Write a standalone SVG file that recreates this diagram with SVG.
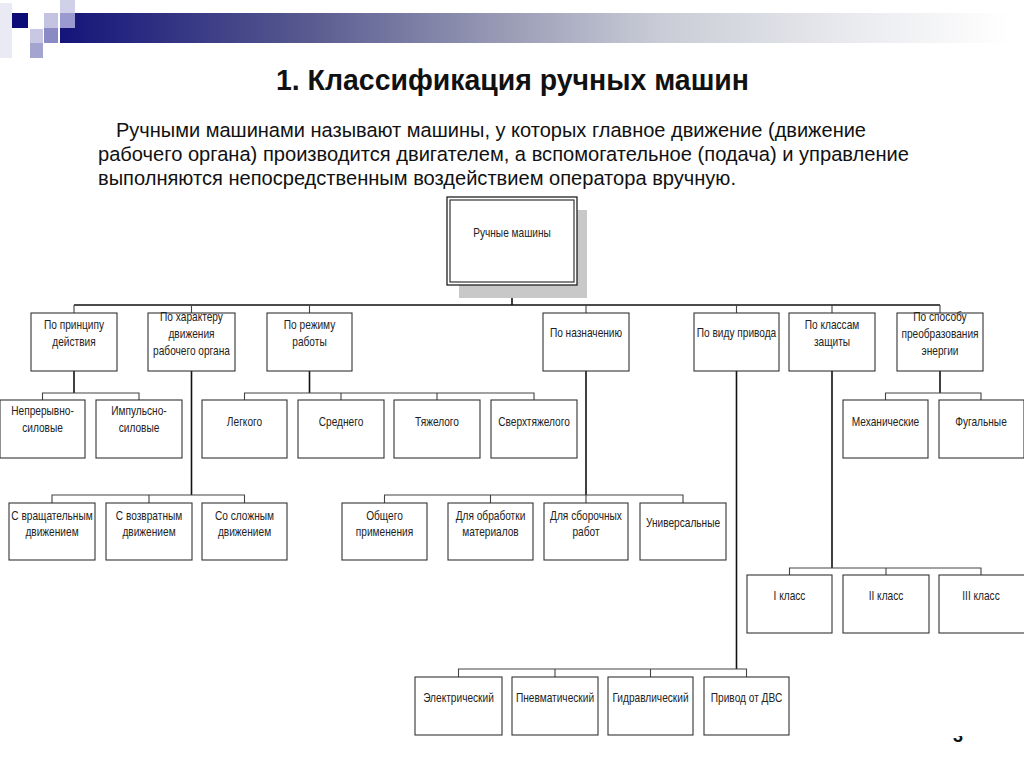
<svg xmlns="http://www.w3.org/2000/svg" width="1024" height="767" viewBox="0 0 1024 767">
<defs>
<linearGradient id="bar" gradientUnits="userSpaceOnUse" x1="60" y1="0" x2="1010" y2="0">
<stop offset="0" stop-color="#14147a"/>
<stop offset="0.25" stop-color="#55578e"/>
<stop offset="0.47" stop-color="#9a9cb6"/>
<stop offset="0.63" stop-color="#c9ccd6"/>
<stop offset="0.83" stop-color="#e9eaee"/>
<stop offset="1" stop-color="#ffffff"/>
</linearGradient>
<clipPath id="pg"><rect x="900" y="736" width="124" height="31"/></clipPath>
<style>
.box{fill:#fff;stroke:#333;stroke-width:1.1}
.t{font-family:"Liberation Sans",Arial,sans-serif;font-size:13px;fill:#222;text-anchor:middle}
.main{stroke:#111;stroke-width:1.6;fill:none}
.sub{stroke:#444;stroke-width:1.1;fill:none}
.title{font-family:"Liberation Sans",Arial,sans-serif;font-weight:bold;font-size:29px;fill:#111}
.para{font-family:"Liberation Sans",Arial,sans-serif;font-size:20.5px;fill:#111}
</style>
</defs>
<rect width="1024" height="767" fill="#fff"/>
<g id="header">
<rect x="0" y="3" width="12" height="55" fill="#e9eaf4"/>
<rect x="60" y="13" width="950" height="30" fill="url(#bar)"/>
<rect x="12" y="13" width="16" height="15" fill="#0c0c78"/>
<rect x="30" y="29" width="13" height="14" fill="#c8c8e4"/>
<rect x="30" y="43" width="13" height="15" fill="#a4a4d0"/>
<rect x="44" y="13" width="14" height="15" fill="#c4c4e2"/>
<rect x="44" y="28" width="14" height="15" fill="#8a8ac4"/>
<rect x="60" y="0" width="15" height="13" fill="#d0d0e8"/>
<rect x="60" y="13" width="15" height="15" fill="#9a9ad0"/>
</g>
<text class="title" x="276" y="90" textLength="473" lengthAdjust="spacingAndGlyphs">1. Классификация ручных машин</text>
<g id="intro">
<text class="para" x="116" y="137" textLength="750" lengthAdjust="spacingAndGlyphs">Ручными машинами называют машины, у которых главное движение (движение</text>
<text class="para" x="98" y="161" textLength="811" lengthAdjust="spacingAndGlyphs">рабочего органа) производится двигателем, а вспомогательное (подача) и управление</text>
<text class="para" x="98" y="185" textLength="638" lengthAdjust="spacingAndGlyphs">выполняются непосредственным воздействием оператора вручную.</text>
</g>
<g id="connectors">
<path class="main" d="M512 285V305M74 305H940"/>
<path class="sub" d="M74 305V313M191.5 305V313M309.5 305V313M586 305V313M736.5 305V313M832 305V313M940 305V313"/>
<path class="main" d="M74 371V393M191.5 371V495M309.5 371V393M586 371V495M736.5 371V669M832 371V568M940 371V393"/>
<path class="sub" d="M42.5 400V393H139V400"/>
<path class="sub" d="M52 503V495H244.5V503M149 495V503"/>
<path class="sub" d="M244.5 400V393H534V400M341 393V400M437 393V400"/>
<path class="sub" d="M384.5 503V495H683V503M490.5 495V503M586 495V503"/>
<path class="sub" d="M458.5 677V669H746.5V677M555 669V677M650.5 669V677"/>
<path class="sub" d="M789.5 575V568H981V575M886 568V575"/>
<path class="sub" d="M885.5 400V393H981V400"/>
</g>
<g id="root">
<rect x="459" y="210" width="128" height="88" fill="#c8c8c8"/>
<rect x="447" y="197" width="130" height="88" fill="#fff" stroke="#222" stroke-width="1.3"/>
<rect x="450" y="200" width="124" height="82" fill="none" stroke="#222" stroke-width="1.1"/>
<text class="t" transform="translate(512,237) scale(0.78,1)">Ручные машины</text>
</g>
<g id="n-principle"><rect class="box" x="31" y="313" width="86" height="58"/>
<text class="t" transform="translate(74,329) scale(0.78,1)">По принципу</text><text class="t" transform="translate(74,346) scale(0.78,1)">действия</text></g>
<g id="n-character"><rect class="box" x="148" y="313" width="87" height="58"/>
<text class="t" transform="translate(191.5,321) scale(0.78,1)">По характеру</text><text class="t" transform="translate(191.5,338) scale(0.78,1)">движения</text><text class="t" transform="translate(191.5,355) scale(0.78,1)">рабочего органа</text></g>
<g id="n-mode"><rect class="box" x="267" y="313" width="85" height="58"/>
<text class="t" transform="translate(309.5,329) scale(0.78,1)">По режиму</text><text class="t" transform="translate(309.5,346) scale(0.78,1)">работы</text></g>
<g id="n-purpose"><rect class="box" x="543" y="313" width="86" height="58"/>
<text class="t" transform="translate(586,337) scale(0.78,1)">По назначению</text></g>
<g id="n-drive"><rect class="box" x="694" y="313" width="85" height="58"/>
<text class="t" transform="translate(736.5,337) scale(0.78,1)">По виду привода</text></g>
<g id="n-protection"><rect class="box" x="789" y="313" width="86" height="58"/>
<text class="t" transform="translate(832,329) scale(0.78,1)">По классам</text><text class="t" transform="translate(832,346) scale(0.78,1)">защиты</text></g>
<g id="n-energy"><rect class="box" x="897" y="313" width="86" height="58"/>
<text class="t" transform="translate(940,321) scale(0.78,1)">По способу</text><text class="t" transform="translate(940,338) scale(0.78,1)">преобразования</text><text class="t" transform="translate(940,355) scale(0.78,1)">энергии</text></g>
<g id="n-continuous"><rect class="box" x="0" y="400" width="85" height="58"/>
<text class="t" transform="translate(42.5,415) scale(0.78,1)">Непрерывно-</text><text class="t" transform="translate(42.5,432) scale(0.78,1)">силовые</text></g>
<g id="n-impulse"><rect class="box" x="96" y="400" width="86" height="58"/>
<text class="t" transform="translate(139,415) scale(0.78,1)">Импульсно-</text><text class="t" transform="translate(139,432) scale(0.78,1)">силовые</text></g>
<g id="n-light"><rect class="box" x="202" y="400" width="85" height="58"/>
<text class="t" transform="translate(244.5,426) scale(0.78,1)">Легкого</text></g>
<g id="n-medium"><rect class="box" x="298" y="400" width="86" height="58"/>
<text class="t" transform="translate(341,426) scale(0.78,1)">Среднего</text></g>
<g id="n-heavy"><rect class="box" x="394" y="400" width="86" height="58"/>
<text class="t" transform="translate(437,426) scale(0.78,1)">Тяжелого</text></g>
<g id="n-superheavy"><rect class="box" x="491" y="400" width="86" height="58"/>
<text class="t" transform="translate(534,426) scale(0.78,1)">Сверхтяжелого</text></g>
<g id="n-mechanical"><rect class="box" x="843" y="400" width="85" height="58"/>
<text class="t" transform="translate(885.5,426) scale(0.78,1)">Механические</text></g>
<g id="n-fugal"><rect class="box" x="939" y="400" width="85" height="58"/>
<text class="t" transform="translate(981,426) scale(0.78,1)">Фугальные</text></g>
<g id="n-rotary"><rect class="box" x="9" y="503" width="86" height="57"/>
<text class="t" transform="translate(52,520) scale(0.78,1)">С вращательным</text><text class="t" transform="translate(52,536) scale(0.78,1)">движением</text></g>
<g id="n-reciprocating"><rect class="box" x="106" y="503" width="86" height="57"/>
<text class="t" transform="translate(149,520) scale(0.78,1)">С возвратным</text><text class="t" transform="translate(149,536) scale(0.78,1)">движением</text></g>
<g id="n-complex"><rect class="box" x="202" y="503" width="85" height="57"/>
<text class="t" transform="translate(244.5,520) scale(0.78,1)">Со сложным</text><text class="t" transform="translate(244.5,536) scale(0.78,1)">движением</text></g>
<g id="n-general"><rect class="box" x="342" y="503" width="85" height="57"/>
<text class="t" transform="translate(384.5,520) scale(0.78,1)">Общего</text><text class="t" transform="translate(384.5,536) scale(0.78,1)">применения</text></g>
<g id="n-processing"><rect class="box" x="448" y="503" width="85" height="57"/>
<text class="t" transform="translate(490.5,520) scale(0.78,1)">Для обработки</text><text class="t" transform="translate(490.5,536) scale(0.78,1)">материалов</text></g>
<g id="n-assembly"><rect class="box" x="544" y="503" width="84" height="57"/>
<text class="t" transform="translate(586,520) scale(0.78,1)">Для сборочных</text><text class="t" transform="translate(586,536) scale(0.78,1)">работ</text></g>
<g id="n-universal"><rect class="box" x="640" y="503" width="86" height="57"/>
<text class="t" transform="translate(683,527) scale(0.78,1)">Универсальные</text></g>
<g id="n-class1"><rect class="box" x="747" y="575" width="85" height="58"/>
<text class="t" transform="translate(789.5,600) scale(0.78,1)">I класс</text></g>
<g id="n-class2"><rect class="box" x="843" y="575" width="86" height="58"/>
<text class="t" transform="translate(886,600) scale(0.78,1)">II класс</text></g>
<g id="n-class3"><rect class="box" x="939" y="575" width="86" height="58"/>
<text class="t" transform="translate(981,600) scale(0.78,1)">III класс</text></g>
<g id="n-electric"><rect class="box" x="415" y="677" width="87" height="58"/>
<text class="t" transform="translate(458.5,702) scale(0.78,1)">Электрический</text></g>
<g id="n-pneumatic"><rect class="box" x="512" y="677" width="86" height="58"/>
<text class="t" transform="translate(555,702) scale(0.78,1)">Пневматический</text></g>
<g id="n-hydraulic"><rect class="box" x="608" y="677" width="85" height="58"/>
<text class="t" transform="translate(650.5,702) scale(0.78,1)">Гидравлический</text></g>
<g id="n-ice"><rect class="box" x="704" y="677" width="85" height="58"/>
<text class="t" transform="translate(746.5,702) scale(0.78,1)">Привод от ДВС</text></g>
<text clip-path="url(#pg)" x="958" y="742" font-family="Liberation Sans, Arial, sans-serif" font-weight="bold" font-size="18" text-anchor="middle" fill="#111">3</text>
</svg>
